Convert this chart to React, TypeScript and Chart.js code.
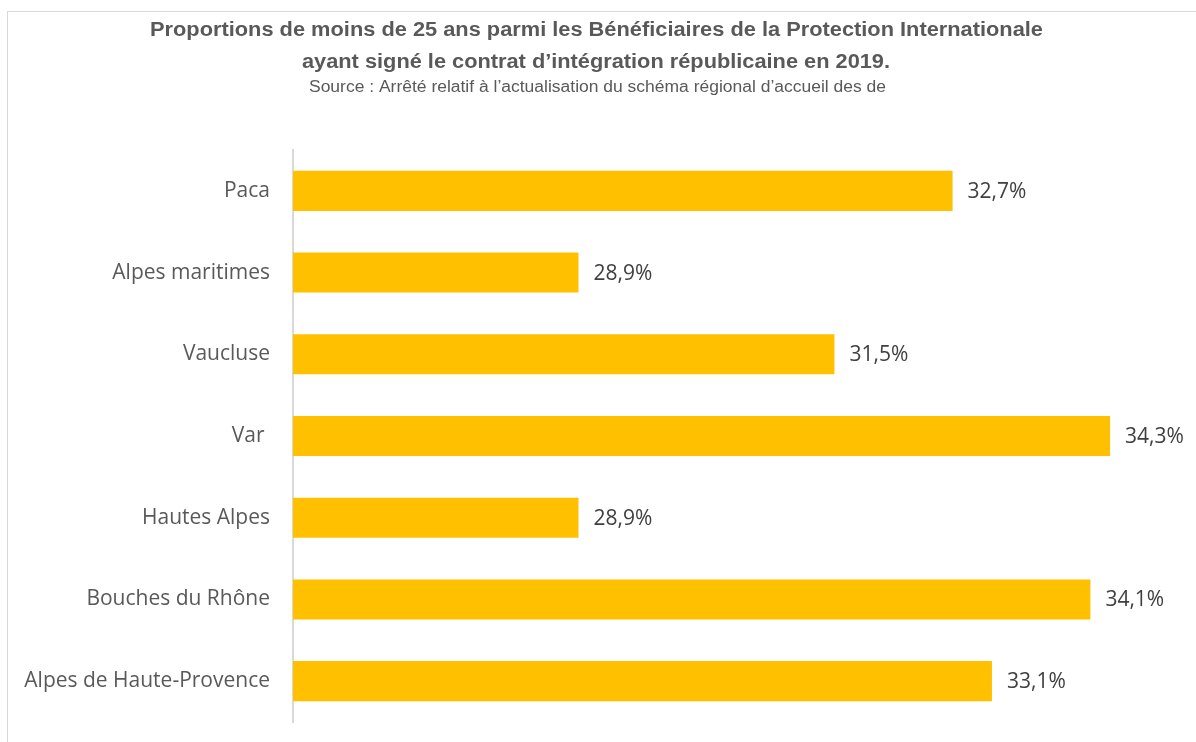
import React, { useEffect, useRef } from "react";
import { Chart, registerables } from "chart.js";

Chart.register(...registerables);

const categories = [
  "Paca",
  "Alpes maritimes",
  "Vaucluse",
  "Var ",
  "Hautes Alpes",
  "Bouches du Rhône",
  "Alpes de Haute-Provence",
];
const values = [32.7, 28.9, 31.5, 34.3, 28.9, 34.1, 33.1];
const titleLines = [
  "Proportions de moins de 25 ans parmi les Bénéficiaires de la Protection Internationale",
  "ayant signé le contrat d’intégration républicaine en 2019.",
];
const subtitle =
  "Source : Arrêté relatif à l’actualisation du schéma régional d’accueil des de";
const axisMin = 26;
const axisMax = 35;

const fmt = (v: number) => v.toFixed(1).replace(".", ",") + "%";

const framePlugin = {
  id: "frame",
  beforeDraw(chart: any) {
    const ctx = chart.ctx;
    ctx.save();
    ctx.fillStyle = "#ffffff";
    ctx.fillRect(0, 0, chart.width, chart.height);
    ctx.strokeStyle = "#d9d9d9";
    ctx.lineWidth = 1;
    ctx.strokeRect(7.5, 11.5, 1400, 1000);
    ctx.restore();
  },
};

function drawFitted(ctx: any, text: string, cx: number, cy: number, font: string, width: number) {
  ctx.save();
  ctx.font = font;
  const m = ctx.measureText(text).width;
  ctx.translate(cx, cy);
  ctx.scale(width / m, 1);
  ctx.textAlign = "center";
  ctx.textBaseline = "middle";
  ctx.fillText(text, 0, 0);
  ctx.restore();
}

const titlePlugin = {
  id: "titles",
  afterDraw(chart: any) {
    const ctx = chart.ctx;
    ctx.save();
    ctx.fillStyle = "#595959";
    drawFitted(ctx, titleLines[0], 596.5, 30, 'bold 20px "Liberation Sans"', 893);
    drawFitted(ctx, titleLines[1], 596, 62, 'bold 20px "Liberation Sans"', 588);
    drawFitted(ctx, subtitle, 597.5, 88, '16px "Liberation Sans"', 577);
    ctx.restore();
  },
};

const labelPlugin = {
  id: "valueLabels",
  afterDatasetsDraw(chart: any) {
    const ctx = chart.ctx;
    const meta = chart.getDatasetMeta(0);
    ctx.save();
    ctx.font = '21px "Open Sans"';
    ctx.fillStyle = "#404040";
    ctx.textAlign = "left";
    ctx.textBaseline = "middle";
    meta.data.forEach((bar: any, i: number) => {
      ctx.fillText(fmt(values[i]), bar.x + 15, bar.y + 1);
    });
    ctx.restore();
  },
};

export default function App() {
  const ref = useRef<HTMLCanvasElement | null>(null);
  useEffect(() => {
    document.body.style.margin = "0";
    document.body.style.overflow = "hidden";
    if (!ref.current) return;
    const chart = new Chart(ref.current, {
      type: "bar",
      data: {
        labels: categories,
        datasets: [
          {
            data: values,
            backgroundColor: "#FFC000",
            borderWidth: 0,
            barPercentage: 0.49,
            categoryPercentage: 1,
          },
        ],
      },
      options: {
        indexAxis: "y",
        animation: false,
        responsive: false,
        devicePixelRatio: 1,
        layout: { padding: { top: 150, bottom: 20, right: 17, left: 0 } },
        plugins: {
          legend: { display: false },
          title: { display: false },
          tooltip: { enabled: false },
        },
        scales: {
          x: {
            type: "linear",
            display: false,
            min: axisMin,
            max: axisMax,
          },
          y: {
            grid: { display: false, drawTicks: false },
            border: { display: true, color: "#d9d9d9", width: 2 },
            ticks: {
              color: "#595959",
              font: { family: '"Open Sans"', size: 21 },
              padding: 23,
            },
            afterFit(scale: any) {
              scale.width = 293;
              scale.paddingTop = 0;
              scale.paddingBottom = 0;
            },
          },
        },
      },
      plugins: [framePlugin, labelPlugin, titlePlugin],
    });
    return () => chart.destroy();
  }, []);
  return <canvas ref={ref} width={1196} height={742} style={{ display: "block" }} />;
}
